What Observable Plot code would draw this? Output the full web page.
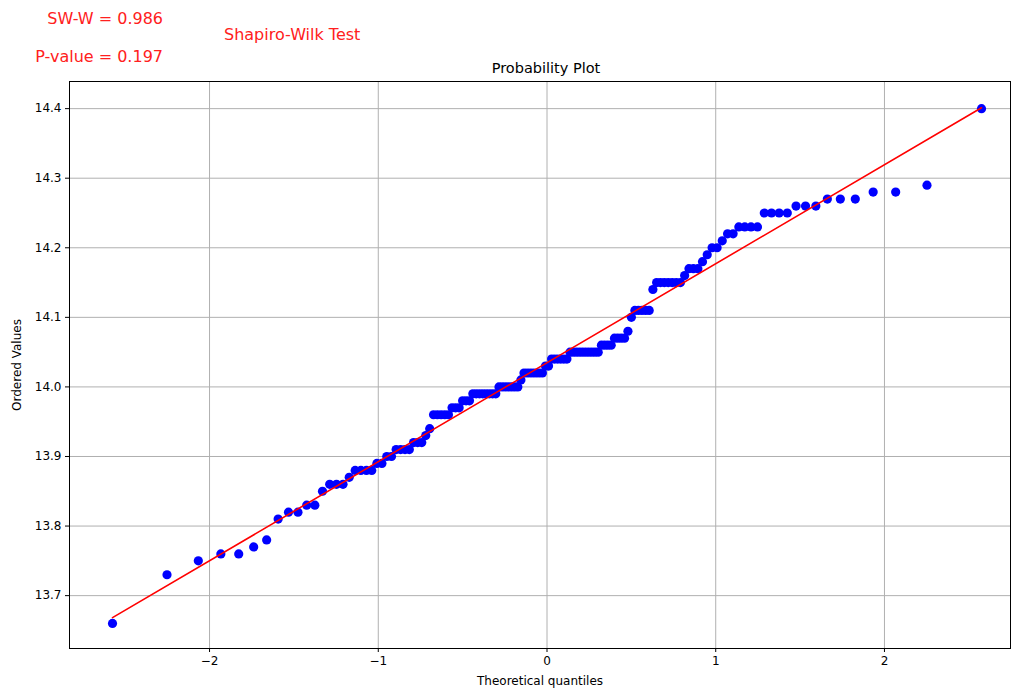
<!DOCTYPE html>
<html>
<head>
<meta charset="utf-8">
<script src="https://cdn.jsdelivr.net/npm/d3@7"></script>
<script src="https://cdn.jsdelivr.net/npm/@observablehq/plot@0.6"></script>
<style>
  html, body { margin: 0; padding: 0; background: #fff; }
  #wrap { position: relative; width: 1013px; height: 690px; font-family: "DejaVu Sans", sans-serif; }
  .ann { position: absolute; white-space: nowrap; line-height: 16px; font-size: 16px; color: #ff2020; }
  #title { position: absolute; left: 0; width: 1092px; text-align: center; top: 61px; font-size: 14.5px; line-height: 15px; color: #000; }
</style>
</head>
<body>
<div id="wrap">
  <div id="chart"></div>
  <div class="ann" id="sw" style="left:0; width:163px; text-align:right; top:11px;"></div>
  <div class="ann" id="pv" style="left:0; width:163px; text-align:right; top:49px;"></div>
  <div class="ann" id="test" style="left:224px; top:27px;"></div>
  <div id="title"></div>
</div>
<script>
// Sorted sample (ordered values)
const orderedValues = [
  13.66, 13.73, 13.75, 13.76, 13.76, 13.77, 13.78, 13.81, 13.82, 13.82,
  13.83, 13.83, 13.85, 13.86, 13.86, 13.86, 13.87, 13.88, 13.88, 13.88,
  13.88, 13.89, 13.89, 13.90, 13.90, 13.91, 13.91, 13.91, 13.91, 13.92,
  13.92, 13.92, 13.93, 13.94, 13.96, 13.96, 13.96, 13.96, 13.96, 13.97,
  13.97, 13.97, 13.98, 13.98, 13.98, 13.99, 13.99, 13.99, 13.99, 13.99,
  13.99, 13.99, 13.99, 14.00, 14.00, 14.00, 14.00, 14.00, 14.00, 14.00,
  14.01, 14.02, 14.02, 14.02, 14.02, 14.02, 14.02, 14.02, 14.03, 14.03,
  14.04, 14.04, 14.04, 14.04, 14.04, 14.04, 14.05, 14.05, 14.05, 14.05,
  14.05, 14.05, 14.05, 14.05, 14.05, 14.05, 14.06, 14.06, 14.06, 14.06,
  14.07, 14.07, 14.07, 14.07, 14.08, 14.10, 14.11, 14.11, 14.11, 14.11,
  14.11, 14.14, 14.15, 14.15, 14.15, 14.15, 14.15, 14.15, 14.15, 14.16,
  14.17, 14.17, 14.17, 14.18, 14.19, 14.20, 14.20, 14.21, 14.22, 14.22,
  14.23, 14.23, 14.23, 14.23, 14.25, 14.25, 14.25, 14.25, 14.26, 14.26,
  14.26, 14.27, 14.27, 14.27, 14.28, 14.28, 14.29, 14.40
];
const xTicks = [-2, -1, 0, 1, 2];
const yTicks = [13.7, 13.8, 13.9, 14.0, 14.1, 14.2, 14.3, 14.4];
const swText = "SW-W = 0.986";
const pText = "P-value = 0.197";
const testText = "Shapiro-Wilk Test";
const titleText = "Probability Plot";
const xLabel = "Theoretical quantiles";
const yLabel = "Ordered Values";

// Inverse standard normal CDF (Acklam)
function normInv(p) {
  const a = [-3.969683028665376e+01, 2.209460984245205e+02, -2.759285104469687e+02, 1.383577518672690e+02, -3.066479806614716e+01, 2.506628277459239e+00];
  const b = [-5.447609879822406e+01, 1.615858368580409e+02, -1.556989798598866e+02, 6.680131188771972e+01, -1.328068155288572e+01];
  const c = [-7.784894002430293e-03, -3.223964580411365e-01, -2.400758277161838e+00, -2.549732539343734e+00, 4.374664141464968e+00, 2.938163982698783e+00];
  const d = [7.784695709041462e-03, 3.224671290700398e-01, 2.445134137142996e+00, 3.754408661907416e+00];
  const pl = 0.02425, ph = 1 - pl;
  let q, r;
  if (p < pl) {
    q = Math.sqrt(-2 * Math.log(p));
    return (((((c[0]*q+c[1])*q+c[2])*q+c[3])*q+c[4])*q+c[5]) / ((((d[0]*q+d[1])*q+d[2])*q+d[3])*q+1);
  } else if (p <= ph) {
    q = p - 0.5; r = q*q;
    return (((((a[0]*r+a[1])*r+a[2])*r+a[3])*r+a[4])*r+a[5])*q / (((((b[0]*r+b[1])*r+b[2])*r+b[3])*r+b[4])*r+1);
  } else {
    q = Math.sqrt(-2 * Math.log(1 - p));
    return -(((((c[0]*q+c[1])*q+c[2])*q+c[3])*q+c[4])*q+c[5]) / ((((d[0]*q+d[1])*q+d[2])*q+d[3])*q+1);
  }
}

// Theoretical quantiles: Filliben order-statistic medians (as in scipy probplot)
const n = orderedValues.length;
const data = orderedValues.map((v, i) => {
  let m;
  if (i === 0) m = 1 - Math.pow(0.5, 1 / n);
  else if (i === n - 1) m = Math.pow(0.5, 1 / n);
  else m = (i + 1 - 0.3175) / (n + 0.365);
  return {q: normInv(m), v};
});

const intFormat = d => (d < 0 ? "\u2212" + Math.abs(d) : String(d));

const chart = Plot.plot({
  width: 1013,
  height: 690,
  marginLeft: 69,
  marginRight: 3,
  marginTop: 81,
  marginBottom: 42,
  x: {domain: [-2.83, 2.747]},
  y: {domain: [13.624, 14.439]},
  style: {fontFamily: "DejaVu Sans, sans-serif", fontSize: "12px", color: "#000", background: "#fff"},
  marks: [
    Plot.gridX(xTicks, {stroke: "#b0b0b0", strokeOpacity: 1, strokeWidth: 1}),
    Plot.gridY(yTicks, {stroke: "#b0b0b0", strokeOpacity: 1, strokeWidth: 1}),
    Plot.axisX(xTicks, {tickSize: 4, tickPadding: 4, tickFormat: intFormat, label: xLabel, labelAnchor: "center", labelArrow: "none", labelOffset: 36, fontSize: 12}),
    Plot.axisY(yTicks, {tickSize: 4, tickPadding: 4, tickFormat: d3.format(".1f"), label: yLabel, labelAnchor: "center", labelArrow: "none", labelOffset: 57, fontSize: 12}),
    Plot.dot(data, {x: "q", y: "v", r: 4.6, fill: "#0000ff", stroke: "none"}),
    Plot.linearRegressionY(data, {x: "q", y: "v", stroke: "#ff0000", strokeWidth: 1.6, ci: 0}),
    Plot.frame({stroke: "#000", strokeWidth: 1})
  ]
});
document.getElementById("chart").appendChild(chart);
document.getElementById("sw").textContent = swText;
document.getElementById("pv").textContent = pText;
document.getElementById("test").textContent = testText;
document.getElementById("title").textContent = titleText;
</script>
</body>
</html>
